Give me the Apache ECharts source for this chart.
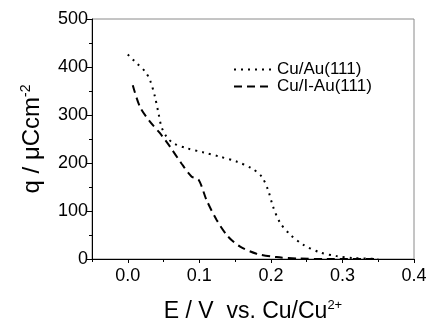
<!DOCTYPE html>
<html>
<head>
<meta charset="utf-8">
<script src="https://cdn.jsdelivr.net/npm/echarts@6/dist/echarts.min.js"></script>
<style>
  html, body { margin: 0; padding: 0; background: #fff; }
  #chart { width: 429px; height: 323px; }
</style>
</head>
<body>
<div id="chart"></div>
<script>
// Cu/Au(111), dotted
const cuAuE = [0.0, 0.013, 0.024, 0.031, 0.038, 0.043, 0.047, 0.054, 0.064, 0.082, 0.106, 0.129, 0.152, 0.173, 0.187, 0.196, 0.203, 0.213, 0.227, 0.245, 0.268, 0.292, 0.315, 0.35];
const cuAuQ = [426, 407, 391, 373, 338, 303, 276, 255, 241, 231, 222, 213, 203, 189, 172, 144, 109, 75, 51, 30, 14, 6, 2, 0];
// Cu/I-Au(111), dashed
const cuIAuE = [0.007, 0.017, 0.031, 0.045, 0.059, 0.075, 0.089, 0.099, 0.110, 0.124, 0.140, 0.157, 0.180, 0.208, 0.240, 0.278, 0.347];
const cuIAuQ = [362, 317, 286, 262, 234, 199, 172, 165, 123, 82, 47, 26, 11, 4, 1, 0, 0];

const xMajor = [0.0, 0.1, 0.2, 0.3, 0.4];
const xMinor = [-0.05, 0.05, 0.15, 0.25, 0.35];
const yTicks = [0, 100, 200, 300, 400, 500];

const font = 'Liberation Sans, Arial, sans-serif';
const pairs = (xs, ys) => xs.map((x, i) => [x, ys[i]]);

const chart = echarts.init(document.getElementById('chart'));
chart.setOption({
  animation: false,
  textStyle: { fontFamily: font },
  grid: {
    left: 92, right: 15, top: 19, bottom: 64,
    outerBoundsMode: 'none',
    show: true, borderColor: '#8a8a8a', borderWidth: 1
  },
  legend: {
    orient: 'vertical',
    left: 228, top: 56,
    itemWidth: 38, itemHeight: 8, itemGap: 0,
    itemStyle: { opacity: 0 },
    textStyle: { fontSize: 17, lineHeight: 16, color: '#000', fontFamily: font },
    data: ['Cu/Au(111)', 'Cu/I-Au(111)']
  },
  xAxis: [
    {
      type: 'value', min: -0.05, max: 0.4,
      axisLine: { onZero: false, lineStyle: { color: '#000', width: 1 } },
      axisTick: { customValues: xMajor, length: 4, lineStyle: { color: '#000' } },
      axisLabel: {
        customValues: xMajor, fontSize: 18, color: '#000', margin: 8,
        formatter: v => v.toFixed(1)
      },
      splitLine: { show: false },
      name: '{n|E / V  vs. Cu/Cu}{s|2+}',
      nameLocation: 'middle', nameGap: 40,
      nameTextStyle: {
        rich: {
          n: { fontSize: 23, color: '#000', fontFamily: font },
          s: { fontSize: 13, color: '#000', fontFamily: font, verticalAlign: 'top', padding: [0, 0, 13, 0] }
        }
      }
    },
    {
      type: 'value', min: -0.05, max: 0.4, position: 'bottom',
      axisLine: { show: false, onZero: false },
      axisTick: { customValues: xMinor, length: 3, lineStyle: { color: '#000' } },
      axisLabel: { show: false },
      splitLine: { show: false }
    }
  ],
  yAxis: {
    type: 'value', min: 0, max: 500, interval: 100,
    axisLine: { show: true, onZero: false, lineStyle: { color: '#000', width: 1 } },
    axisTick: { show: true, length: 5, lineStyle: { color: '#000' } },
    minorTick: { show: true, splitNumber: 2, length: 3, lineStyle: { color: '#000' } },
    axisLabel: {
      fontSize: 18, color: '#000', margin: 4,
      formatter: v => (yTicks.includes(v) ? String(v) : '')
    },
    splitLine: { show: false },
    name: '{n|q / μCcm}{s|-2}',
    nameLocation: 'middle', nameGap: 46,
    nameTextStyle: {
      rich: {
        n: { fontSize: 24, color: '#000', fontFamily: font },
        s: { fontSize: 14, color: '#000', fontFamily: font, verticalAlign: 'top', padding: [0, 0, 13, 0] }
      }
    }
  },
  series: [
    {
      name: 'Cu/Au(111)', type: 'line', xAxisIndex: 0,
      data: pairs(cuAuE, cuAuQ),
      smooth: 0.3, symbol: 'none',
      lineStyle: { color: '#000', width: 2, type: [2, 5] },
      itemStyle: { color: '#000' }
    },
    {
      name: 'Cu/I-Au(111)', type: 'line', xAxisIndex: 0,
      data: pairs(cuIAuE, cuIAuQ),
      smooth: 0.3, symbol: 'none',
      lineStyle: { color: '#000', width: 2, type: [8, 5] },
      itemStyle: { color: '#000' }
    }
  ]
});
</script>
</body>
</html>
